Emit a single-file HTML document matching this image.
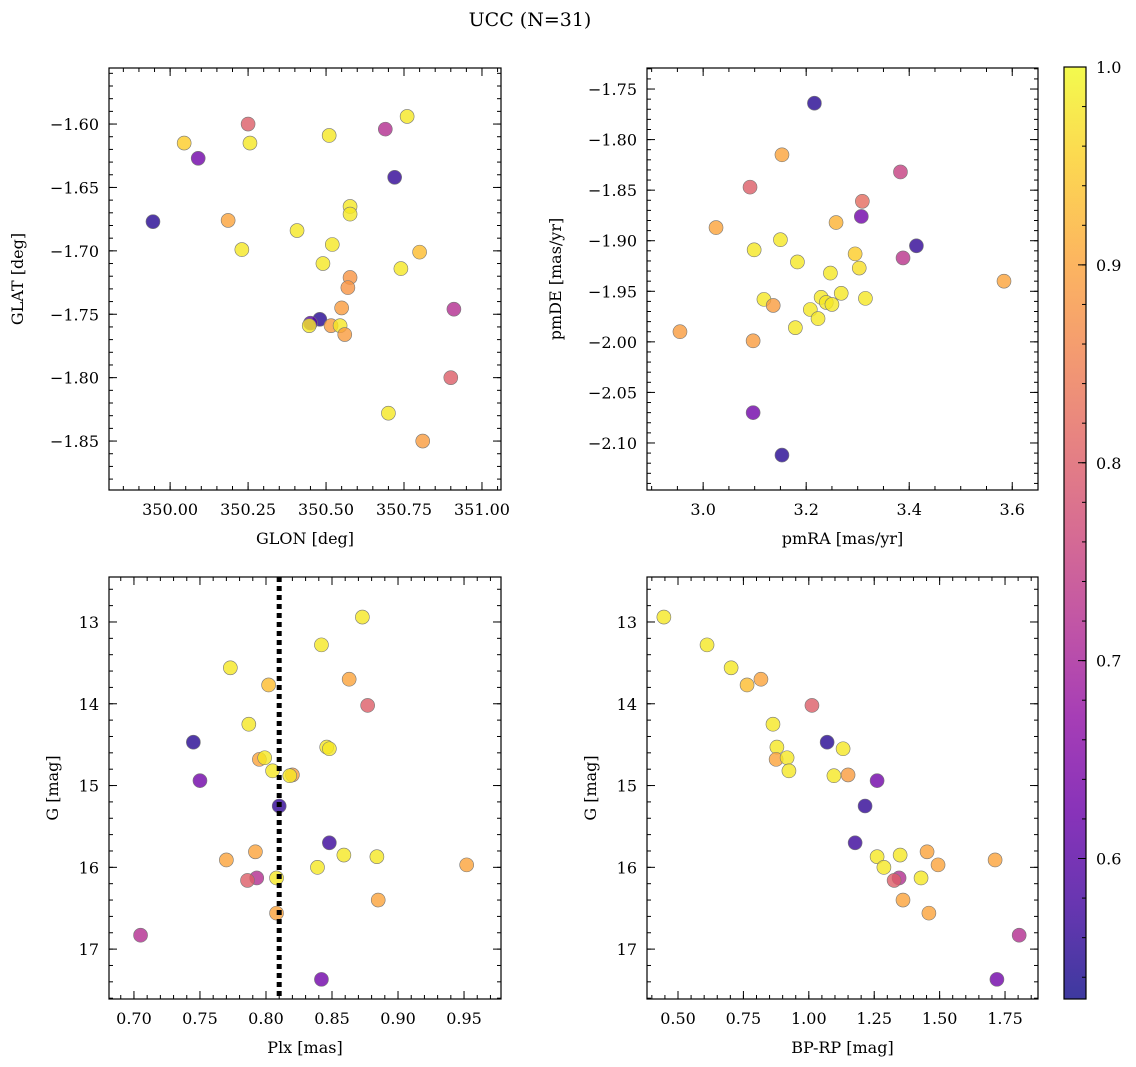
<!DOCTYPE html>
<html><head><meta charset="utf-8"><style>
body{margin:0;background:#fff;}
svg{display:block;font-family:"DejaVu Serif","Liberation Serif",serif;}
</style></head><body>
<svg id="fig" width="1136" height="1067" viewBox="0 0 1136 1067" xmlns="http://www.w3.org/2000/svg">
<defs>
<linearGradient id="cmap" x1="0" y1="1" x2="0" y2="0">
<stop offset="0" stop-color="#0d0887"/><stop offset="0.1" stop-color="#41049d"/><stop offset="0.2" stop-color="#6a00a8"/><stop offset="0.3" stop-color="#8f0da4"/><stop offset="0.4" stop-color="#b12a90"/><stop offset="0.5" stop-color="#cc4778"/><stop offset="0.6" stop-color="#e16462"/><stop offset="0.7" stop-color="#f2844b"/><stop offset="0.8" stop-color="#fca636"/><stop offset="0.9" stop-color="#fcce25"/><stop offset="1" stop-color="#f0f921"/>
</linearGradient>
</defs>
<text x="530" y="26" text-anchor="middle" font-size="19">UCC (N=31)</text>
</svg>
<script>
// Data
const prob = [0.98,0.80,0.72,0.95,0.98,0.98,0.63,0.56,0.98,0.98,0.55,0.90,0.98,0.98,0.98,0.93,0.98,0.98,0.88,0.88,0.89,0.72,0.55,0.60,0.98,0.89,0.98,0.89,0.80,0.98,0.89];
const glon = [350.76,350.25,350.69,350.045,350.256,350.51,350.09,350.72,350.577,350.577,349.945,350.186,350.407,350.23,350.52,350.80,350.49,350.74,350.577,350.57,350.55,350.91,350.48,350.45,350.446,350.516,350.545,350.56,350.90,350.70,350.81];
const glat = [-1.594,-1.600,-1.604,-1.615,-1.615,-1.609,-1.627,-1.642,-1.665,-1.671,-1.677,-1.676,-1.684,-1.699,-1.695,-1.701,-1.710,-1.714,-1.721,-1.729,-1.745,-1.746,-1.754,-1.757,-1.759,-1.759,-1.759,-1.766,-1.800,-1.828,-1.850];
const probPM = [0.55,0.90,0.80,0.75,0.82,0.90,0.63,0.92,0.56,0.98,0.98,0.95,0.73,0.98,0.98,0.97,0.90,0.98,0.98,0.98,0.98,0.98,0.98,0.89,0.98,0.98,0.98,0.89,0.89,0.63,0.55];
const pmra = [3.216,3.153,3.091,3.383,3.309,3.025,3.307,3.258,3.414,3.15,3.099,3.295,3.388,3.183,3.247,3.303,3.584,3.268,3.315,3.229,3.118,3.239,3.250,3.136,3.208,3.223,3.179,3.097,2.955,3.097,3.153];
const pmde = [-1.764,-1.815,-1.847,-1.832,-1.861,-1.887,-1.876,-1.882,-1.905,-1.899,-1.909,-1.913,-1.917,-1.921,-1.932,-1.927,-1.940,-1.952,-1.957,-1.956,-1.958,-1.961,-1.963,-1.964,-1.968,-1.977,-1.986,-1.999,-1.990,-2.070,-2.112];
const probCMD = [0.98,0.98,0.98,0.90,0.93,0.80,0.98,0.55,0.98,0.98,0.90,0.98,0.98,0.89,0.98,0.63,0.56,0.57,0.90,0.98,0.98,0.90,0.90,0.98,0.72,0.80,0.98,0.90,0.90,0.72,0.63];
const plx = [0.873,0.842,0.773,0.863,0.802,0.877,0.787,0.745,0.846,0.848,0.795,0.799,0.805,0.820,0.818,0.750,0.810,0.848,0.792,0.859,0.884,0.770,0.952,0.839,0.793,0.786,0.808,0.885,0.808,0.705,0.842];
const gmag = [12.94,13.28,13.56,13.70,13.77,14.02,14.25,14.47,14.53,14.55,14.68,14.66,14.82,14.87,14.88,14.94,15.25,15.70,15.81,15.85,15.87,15.91,15.97,16.00,16.13,16.16,16.13,16.40,16.56,16.83,17.37];
const bprp = [0.446,0.611,0.703,0.817,0.764,1.012,0.863,1.070,0.878,1.131,0.875,0.917,0.924,1.150,1.096,1.261,1.215,1.177,1.452,1.349,1.261,1.712,1.494,1.287,1.345,1.326,1.429,1.360,1.459,1.804,1.719];
const plxLine = 0.810;
const cbMin = 0.529, cbMax = 1.0;
const cbTicks = [0.6,0.7,0.8,0.9,1.0];

const NS="http://www.w3.org/2000/svg";
const svg=document.getElementById('fig');
function mk(tag,attrs,parent){const e=document.createElementNS(NS,tag);for(const k in attrs)e.setAttribute(k,attrs[k]);(parent||svg).appendChild(e);return e;}
const stops=[[0,13,8,135],[0.1,65,4,157],[0.2,106,0,168],[0.3,143,13,164],[0.4,177,42,144],[0.5,204,71,120],[0.6,225,100,98],[0.7,242,132,75],[0.8,252,166,54],[0.9,252,206,37],[1,240,249,33]];
function cmap(v){let t=(v-cbMin)/(cbMax-cbMin);t=Math.max(0,Math.min(1,t));
 for(let i=0;i<stops.length-1;i++){const a=stops[i],b=stops[i+1];if(t<=b[0]){const f=(t-a[0])/(b[0]-a[0]);return `rgb(${Math.round(a[1]+f*(b[1]-a[1]))},${Math.round(a[2]+f*(b[2]-a[2]))},${Math.round(a[3]+f*(b[3]-a[3]))})`;}}return 'rgb(240,249,33)';}
function fmt(v,d){return (v<0?'\u2212':'')+Math.abs(v).toFixed(d);}

function panel(cfg){
 const {name,L,T,W,H,xmin,xmax,ymin,ymax,invert,xMaj,xMin,yMaj,yMin,xd,yd,xlabel,ylabel,xs,ys,ps}=cfg;
 const g=mk('g',{});
 
 
 const X=v=>L+(v-xmin)/(xmax-xmin)*W;
 const Y=v=>invert? T+(v-ymin)/(ymax-ymin)*H : T+H-(v-ymin)/(ymax-ymin)*H;
 const eps=1e-9;
 function ticks(step,a,b){const r=[];for(let v=Math.ceil(a/step-eps)*step;v<=b+eps;v+=step)r.push(+v.toFixed(6));return r;}
 const axg=mk('g',{stroke:'#000','stroke-width':1},g);
 
 
 ticks(xMin,xmin,xmax).forEach(v=>{const x=X(v);mk('line',{x1:x,x2:x,y1:T+H,y2:T+H-4},axg);mk('line',{x1:x,x2:x,y1:T,y2:T+4},axg);});
 ticks(yMin,Math.min(ymin,ymax),Math.max(ymin,ymax)).forEach(v=>{const y=Y(v);mk('line',{x1:L,x2:L+4,y1:y,y2:y},axg);mk('line',{x1:L+W,x2:L+W-4,y1:y,y2:y},axg);});
 ticks(xMaj,xmin,xmax).forEach(v=>{const x=X(v);mk('line',{x1:x,x2:x,y1:T+H,y2:T+H-8},axg);mk('line',{x1:x,x2:x,y1:T,y2:T+8},axg);
  const t=mk('text',{x:x,y:T+H+25,'text-anchor':'middle','font-size':16,stroke:'none'},g);t.textContent=fmt(v,xd);
  
  });
 ticks(yMaj,Math.min(ymin,ymax),Math.max(ymin,ymax)).forEach(v=>{const y=Y(v);mk('line',{x1:L,x2:L+8,y1:y,y2:y},axg);mk('line',{x1:L+W,x2:L+W-8,y1:y,y2:y},axg);
  const t=mk('text',{x:L-10,y:y+6,'text-anchor':'end','font-size':16,stroke:'none'},g);t.textContent=fmt(v,yd);
  
  });
 const pts=mk('g',{},g);
 
 
 xs.forEach((v,i)=>{const c=mk('circle',{cx:X(v),cy:Y(ys[i]),r:7,fill:cmap(ps[i]),'fill-opacity':0.8,stroke:'#777','stroke-width':0.6},pts);
  
  });
 if(cfg.vline!==undefined){const x=X(cfg.vline);const l=mk('line',{x1:x,x2:x,y1:T,y2:T+H,stroke:'#000','stroke-width':5,'stroke-dasharray':'5,4'},g);
  
  }
 const fr=mk('rect',{x:L,y:T,width:W,height:H,fill:'none',stroke:'#000','stroke-width':1.2},g);
 
 
 const xl=mk('text',{x:L+W/2,y:T+H+54,'text-anchor':'middle','font-size':16},g);xl.textContent=xlabel;
 
 
 const yl=mk('text',{x:0,y:0,'text-anchor':'middle','font-size':16,transform:`translate(${cfg.ylx},${T+H/2}) rotate(-90)`},g);yl.textContent=ylabel;
 
 
}
panel({name:'glon-glat-panel',L:109,T:68,W:392,H:422,xmin:349.804,xmax:351.061,ymin:-1.8886,ymax:-1.5558,invert:false,xMaj:0.25,xMin:0.05,yMaj:0.05,yMin:0.01,xd:2,yd:2,xlabel:'GLON [deg]',ylabel:'GLAT [deg]',ylx:23,xs:glon,ys:glat,ps:prob});
panel({name:'pm-panel',L:647,T:68,W:391,H:422,xmin:2.891,xmax:3.650,ymin:-2.1465,ymax:-1.7292,invert:false,xMaj:0.2,xMin:0.05,yMaj:0.05,yMin:0.01,xd:1,yd:2,xlabel:'pmRA [mas/yr]',ylabel:'pmDE [mas/yr]',ylx:561,xs:pmra,ys:pmde,ps:probPM});
panel({name:'plx-g-panel',L:109,T:577,W:392,H:422,xmin:0.6811,xmax:0.978,ymin:12.45,ymax:17.61,invert:true,xMaj:0.05,xMin:0.01,yMaj:1,yMin:0.2,xd:2,yd:0,xlabel:'Plx [mas]',ylabel:'G [mag]',ylx:58,xs:plx,ys:gmag,ps:probCMD,vline:plxLine});
panel({name:'cmd-panel',L:647,T:577,W:391,H:422,xmin:0.3815,xmax:1.876,ymin:12.45,ymax:17.61,invert:true,xMaj:0.25,xMin:0.05,yMaj:1,yMin:0.2,xd:2,yd:0,xlabel:'BP-RP [mag]',ylabel:'G [mag]',ylx:596,xs:bprp,ys:gmag,ps:probCMD});

// colorbar
const cb=mk('g',{});


const CT=67,CB=999,CL=1064,CW=22;
mk('rect',{x:CL,y:CT,width:CW,height:CB-CT,fill:'url(#cmap)','fill-opacity':0.8},cb);
mk('rect',{x:CL,y:CT,width:CW,height:CB-CT,fill:'none',stroke:'#000','stroke-width':1.2},cb);
const CY=v=>CB-(v-cbMin)/(cbMax-cbMin)*(CB-CT);
for(let v=0.54;v<=1.0001;v+=0.02){const y=CY(v);mk('line',{x1:CL+CW,x2:CL+CW-4,y1:y,y2:y,stroke:'#000'},cb);}
cbTicks.forEach(v=>{const y=CY(v);mk('line',{x1:CL+CW,x2:CL+CW-8,y1:y,y2:y,stroke:'#000'},cb);
 const t=mk('text',{x:CL+CW+10,y:y+6,'font-size':16},cb);t.textContent=v.toFixed(1);
 
 });
</script>
</body></html>
